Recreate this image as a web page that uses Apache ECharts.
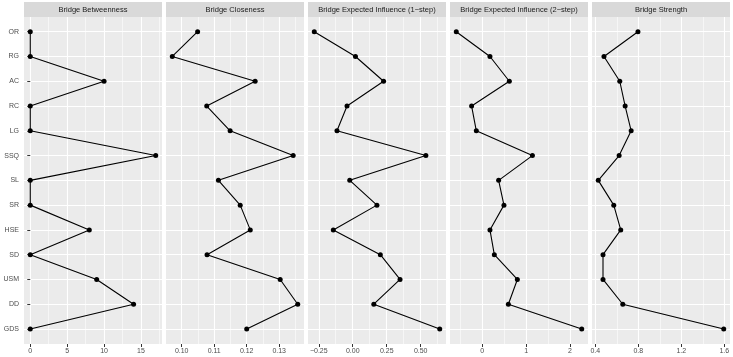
<!DOCTYPE html>
<html>
<head>
<meta charset="utf-8">
<script src="https://cdn.jsdelivr.net/npm/echarts@6/dist/echarts.min.js"></script>
<style>
  html, body { margin: 0; padding: 0; background: #fff; }
  #chart { width: 733px; height: 357px; }
</style>
</head>
<body>
<div id="chart"></div>
<script>
const nodes = ['OR', 'RG', 'AC', 'RC', 'LG', 'SSQ', 'SL', 'SR', 'HSE', 'SD', 'USM', 'DD', 'GDS'];

const titles = ['Bridge Betweenness', 'Bridge Closeness', 'Bridge Expected Influence (1\u2212step)',
  'Bridge Expected Influence (2\u2212step)', 'Bridge Strength'];

const betweenness = [0, 0, 10, 0, 0, 17, 0, 0, 8, 0, 9, 14, 0];
const closeness = [0.1049, 0.0971, 0.1226, 0.1077, 0.1149, 0.1343, 0.1113, 0.1180, 0.1211, 0.1078, 0.1303, 0.1357, 0.1200];
const influence1 = [-0.283, 0.020, 0.227, -0.042, -0.116, 0.538, -0.022, 0.178, -0.143, 0.203, 0.348, 0.155, 0.640];
const influence2 = [-0.594, 0.174, 0.616, -0.244, -0.137, 1.142, 0.372, 0.493, 0.174, 0.274, 0.799, 0.594, 2.267];
const strength = [0.797, 0.481, 0.628, 0.678, 0.734, 0.622, 0.428, 0.572, 0.637, 0.472, 0.472, 0.656, 1.595];

const ticks1 = [0, 5, 10, 15];
const tickLabels1 = ['0', '5', '10', '15'];
const ticks2 = [0.10, 0.11, 0.12, 0.13];
const tickLabels2 = ['0.10', '0.11', '0.12', '0.13'];
const ticks3 = [-0.25, 0, 0.25, 0.5];
const tickLabels3 = ['\u22120.25', '0.00', '0.25', '0.50'];
const ticks4 = [0, 1, 2];
const tickLabels4 = ['0', '1', '2'];
const ticks5 = [0.4, 0.8, 1.2, 1.6];
const tickLabels5 = ['0.4', '0.8', '1.2', '1.6'];

// minor grid lines sit halfway between the major breaks
const minor1 = [2.5, 7.5, 12.5, 17.5];
const minor2 = [0.105, 0.115, 0.125, 0.135];
const minor3 = [-0.125, 0.125, 0.375, 0.625];
const minor4 = [-0.5, 0.5, 1.5];
const minor5 = [0.6, 1.0, 1.4];

const panels = [
  { values: betweenness, ticks: ticks1, labels: tickLabels1, minor: minor1 },
  { values: closeness, ticks: ticks2, labels: tickLabels2, minor: minor2 },
  { values: influence1, ticks: ticks3, labels: tickLabels3, minor: minor3 },
  { values: influence2, ticks: ticks4, labels: tickLabels4, minor: minor4 },
  { values: strength, ticks: ticks5, labels: tickLabels5, minor: minor5 },
];

// layout
const plotLeft = 24, plotRight = 730, gap = 4;
const panelW = (plotRight - plotLeft - gap * 4) / 5;
const bgTop = 17, bgBottom = 13;       // grey panel
const rowTop = 31.7, rowBottom = 28;    // first / last category centre
const FONT = 'Liberation Sans, Arial, sans-serif';

function expand(vals) {
  const lo = Math.min(...vals), hi = Math.max(...vals);
  const pad = (hi - lo) * 0.05;
  return [lo - pad, hi + pad];
}

const grid = [], xAxis = [], yAxis = [], series = [], graphic = [];

panels.forEach((p, i) => {
  const left = plotLeft + i * (panelW + gap);
  const [mn, mx] = expand(p.values);
  const bg = grid.length;
  grid.push({ left: left, width: panelW, top: bgTop, bottom: bgBottom, show: true,
    backgroundColor: '#EBEBEB', borderWidth: 0 });
  const dg = grid.length;
  grid.push({ left: left, width: panelW, top: rowTop, bottom: rowBottom });

  // major x breaks with labels
  xAxis.push({
    gridIndex: bg, type: 'value', min: mn, max: mx, position: 'bottom',
    axisLine: { show: false },
    axisTick: { show: true, length: 3, customValues: p.ticks, lineStyle: { color: '#333333', width: 1 } },
    axisLabel: {
      customValues: p.ticks, color: '#4D4D4D', fontSize: 7, fontFamily: FONT, margin: 4,
      formatter: v => {
        const k = p.ticks.findIndex(t => Math.abs(t - v) < 1e-9);
        return k >= 0 ? p.labels[k] : '';
      }
    },
    splitLine: { show: true, lineStyle: { color: '#FFFFFF', width: 1.1 } }
  });
  // minor x breaks
  xAxis.push({
    gridIndex: bg, type: 'value', min: mn, max: mx, position: 'top',
    axisLine: { show: false },
    axisTick: { show: false, customValues: p.minor },
    axisLabel: { show: false, customValues: p.minor },
    splitLine: { show: true, lineStyle: { color: '#FFFFFF', width: 0.55 } }
  });
  yAxis.push({ gridIndex: bg, type: 'value', min: 0, max: 1, show: false });

  const dx = xAxis.length;
  xAxis.push({ gridIndex: dg, type: 'value', min: mn, max: mx, show: false });
  const dy = yAxis.length;
  yAxis.push({
    gridIndex: dg, type: 'value', min: 0, max: nodes.length - 1, interval: 1, inverse: true,
    axisLine: { show: false },
    axisTick: { show: i === 0, length: 3, lineStyle: { color: '#333333', width: 1 } },
    axisLabel: {
      show: i === 0, color: '#4D4D4D', fontSize: 7, fontFamily: FONT, margin: 5,
      formatter: v => nodes[v] || ''
    },
    splitLine: { show: true, lineStyle: { color: '#FFFFFF', width: 1.1 } }
  });

  series.push({
    type: 'line', xAxisIndex: dx, yAxisIndex: dy,
    data: p.values.map((v, k) => [v, k]),
    symbol: 'circle', symbolSize: 5, showSymbol: true,
    lineStyle: { color: '#000000', width: 1.1 },
    itemStyle: { color: '#000000' },
    silent: true, animation: false
  });

  graphic.push({
    type: 'rect', shape: { x: left, y: 2, width: panelW, height: bgTop - 2 },
    style: { fill: '#D9D9D9' }, silent: true
  });
  graphic.push({
    type: 'text', x: left + panelW / 2, y: (bgTop + 2) / 2,
    style: { text: titles[i], fill: '#1A1A1A', fontSize: 7.5, fontFamily: FONT,
      align: 'center', verticalAlign: 'middle' },
    silent: true
  });
});

const chart = echarts.init(document.getElementById('chart'), null, { renderer: 'canvas' });
chart.setOption({
  animation: false,
  backgroundColor: '#FFFFFF',
  grid, xAxis, yAxis, series, graphic
});
</script>
</body>
</html>
